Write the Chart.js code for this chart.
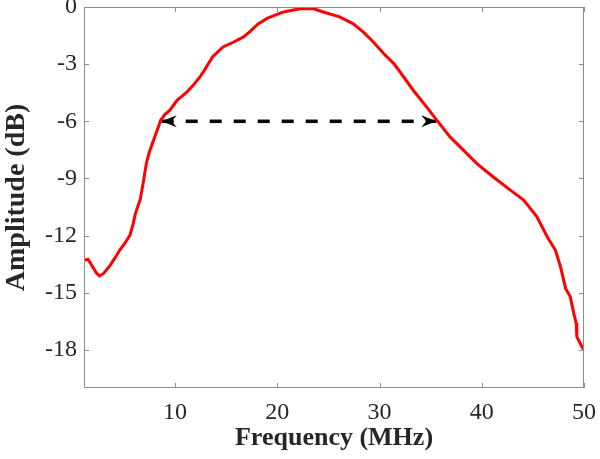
<!DOCTYPE html>
<html>
<head>
<meta charset="utf-8">
<script src="https://cdn.jsdelivr.net/npm/chart.js@4"></script>
<style>
  html, body { margin: 0; padding: 0; background: #fff; }
  #wrap { width: 600px; height: 459px; }
</style>
</head>
<body>
<div id="wrap"><canvas id="freq_response"></canvas></div>
<script>
// frequency (MHz) and amplitude (dB)
const freq = [1.1, 1.5, 1.9, 2.3, 2.6, 3.0, 3.6, 4.1, 4.6, 5.1, 5.6, 5.9, 6.1, 6.4, 6.6, 6.9, 7.2, 7.5, 7.9, 8.3,
    8.6, 9.0, 9.5, 10.2, 11.1, 11.8, 12.4, 12.9, 13.7, 14.7, 15.7, 16.7, 17.3, 18.1, 19.0, 20.6, 22.2, 23.5,
    24.5, 26.1, 27.4, 28.4, 29.4, 30.4, 31.4, 32.0, 33.3, 34.6, 35.6, 36.9, 38.2, 39.5, 41.1, 42.8, 44.1,
    45.4, 46.4, 47.2, 47.7, 48.2, 48.65, 49.0, 49.24, 49.3, 49.8, 50.0];
const amplitude = [-13.28, -13.25, -13.6, -13.95, -14.12, -14.0, -13.6, -13.2, -12.76, -12.4, -11.97, -11.4,
    -10.9, -10.4, -10.1, -9.2, -8.2, -7.6, -7.0, -6.4, -5.94, -5.65, -5.42, -4.9, -4.5, -4.1, -3.7, -3.3,
    -2.6, -2.1, -1.85, -1.57, -1.31, -0.9, -0.6, -0.26, -0.09, -0.08, -0.26, -0.52, -0.87, -1.31, -1.84,
    -2.44, -2.97, -3.4, -4.37, -5.24, -5.94, -6.82, -7.51, -8.21, -8.91, -9.61, -10.14, -11.01, -12.06,
    -12.76, -13.63, -14.77, -15.2, -16.08, -16.6, -17.3, -17.83, -18.0];

// -6 dB bandwidth arrow
const arrow_x = [8.7, 35.55];
const arrow_y = [-6, -6];

const x_ticks = [10, 20, 30, 40, 50];
const y_ticks = [-18, -15, -12, -9, -6, -3, 0];

const AXIS_COLOR = "#8c8c8c";
const TEXT_COLOR = "#262626";

// keep the plot box where the reference has it
function noEdgePadding(s) {
    s.paddingTop = 0;
    s.paddingBottom = 0;
    s.paddingLeft = 0;
    s.paddingRight = 0;
}

const boxAndArrows = {
    id: "boxAndArrows",
    afterDatasetsDraw(chart) {
        const { ctx, chartArea: a, scales } = chart;
        ctx.save();
        // box + inward ticks on all four sides
        ctx.strokeStyle = AXIS_COLOR;
        ctx.lineWidth = 1;
        ctx.strokeRect(a.left + 0.5, a.top + 0.5, a.right - a.left - 1, a.bottom - a.top - 1);
        ctx.beginPath();
        for (const t of x_ticks) {
            const px = Math.round(scales.x.getPixelForValue(t)) + 0.5;
            ctx.moveTo(px, a.bottom); ctx.lineTo(px, a.bottom - 5);
            ctx.moveTo(px, a.top); ctx.lineTo(px, a.top + 5);
        }
        for (const t of y_ticks) {
            const py = Math.round(scales.y.getPixelForValue(t)) + 0.5;
            ctx.moveTo(a.left, py); ctx.lineTo(a.left + 5, py);
            ctx.moveTo(a.right, py); ctx.lineTo(a.right - 5, py);
        }
        ctx.stroke();

        // arrowheads at both ends of the dashed line
        const pts = chart.getDatasetMeta(1).data;
        const heads = [[pts[0], -1], [pts[pts.length - 1], 1]];
        ctx.fillStyle = "#000";
        for (const [p, dir] of heads) {
            const L = 15, W = 6, N = 10;
            ctx.beginPath();
            ctx.moveTo(p.x, p.y);
            ctx.lineTo(p.x - dir * L, p.y - W);
            ctx.lineTo(p.x - dir * N, p.y);
            ctx.lineTo(p.x - dir * L, p.y + W);
            ctx.closePath();
            ctx.fill();
        }
        ctx.restore();
    },
};

new Chart(document.getElementById("freq_response"), {
    type: "scatter",
    data: {
        datasets: [
            {
                label: "amplitude",
                data: freq.map((f, i) => ({ x: f, y: amplitude[i] })),
                showLine: true,
                borderColor: "#ff0000",
                borderWidth: 3,
                pointRadius: 0,
                tension: 0,
            },
            {
                label: "bandwidth",
                data: arrow_x.map((f, i) => ({ x: f, y: arrow_y[i] })),
                showLine: true,
                borderColor: "#000",
                borderWidth: 3.5,
                borderDash: [12, 12],
                pointRadius: 0,
            },
        ],
    },
    options: {
        responsive: true,
        maintainAspectRatio: false,
        animation: false,
        layout: { padding: { top: 7, right: 16, left: 0, bottom: 0 } },
        plugins: { legend: { display: false }, tooltip: { enabled: false } },
        scales: {
            x: {
                type: "linear",
                min: 1.1,
                max: 50,
                afterBuildTicks: (s) => { s.ticks = x_ticks.map((v) => ({ value: v })); },
                afterFit: (s) => { s.height = 71; noEdgePadding(s); },
                grid: { display: false, drawTicks: false },
                border: { display: false },
                ticks: {
                    color: TEXT_COLOR,
                    padding: 10,
                    maxRotation: 0,
                    font: { family: "Liberation Serif", size: 24 },
                },
                title: {
                    display: true,
                    text: "Frequency (MHz)",
                    color: TEXT_COLOR,
                    padding: { top: 0, bottom: 5 },
                    font: { family: "Liberation Serif", size: 26, weight: "bold" },
                },
            },
            y: {
                type: "linear",
                min: -20,
                max: 0,
                afterBuildTicks: (s) => { s.ticks = y_ticks.map((v) => ({ value: v })); },
                afterFit: (s) => { s.width = 84; noEdgePadding(s); },
                grid: { display: false, drawTicks: false },
                border: { display: false },
                ticks: {
                    color: TEXT_COLOR,
                    padding: 7,
                    font: { family: "Liberation Serif", size: 24 },
                },
                title: {
                    display: true,
                    text: "Amplitude (dB)",
                    color: TEXT_COLOR,
                    padding: { top: 0, bottom: 0 },
                    font: { family: "Liberation Serif", size: 28, weight: "bold" },
                },
            },
        },
    },
    plugins: [boxAndArrows],
});
</script>
</body>
</html>
